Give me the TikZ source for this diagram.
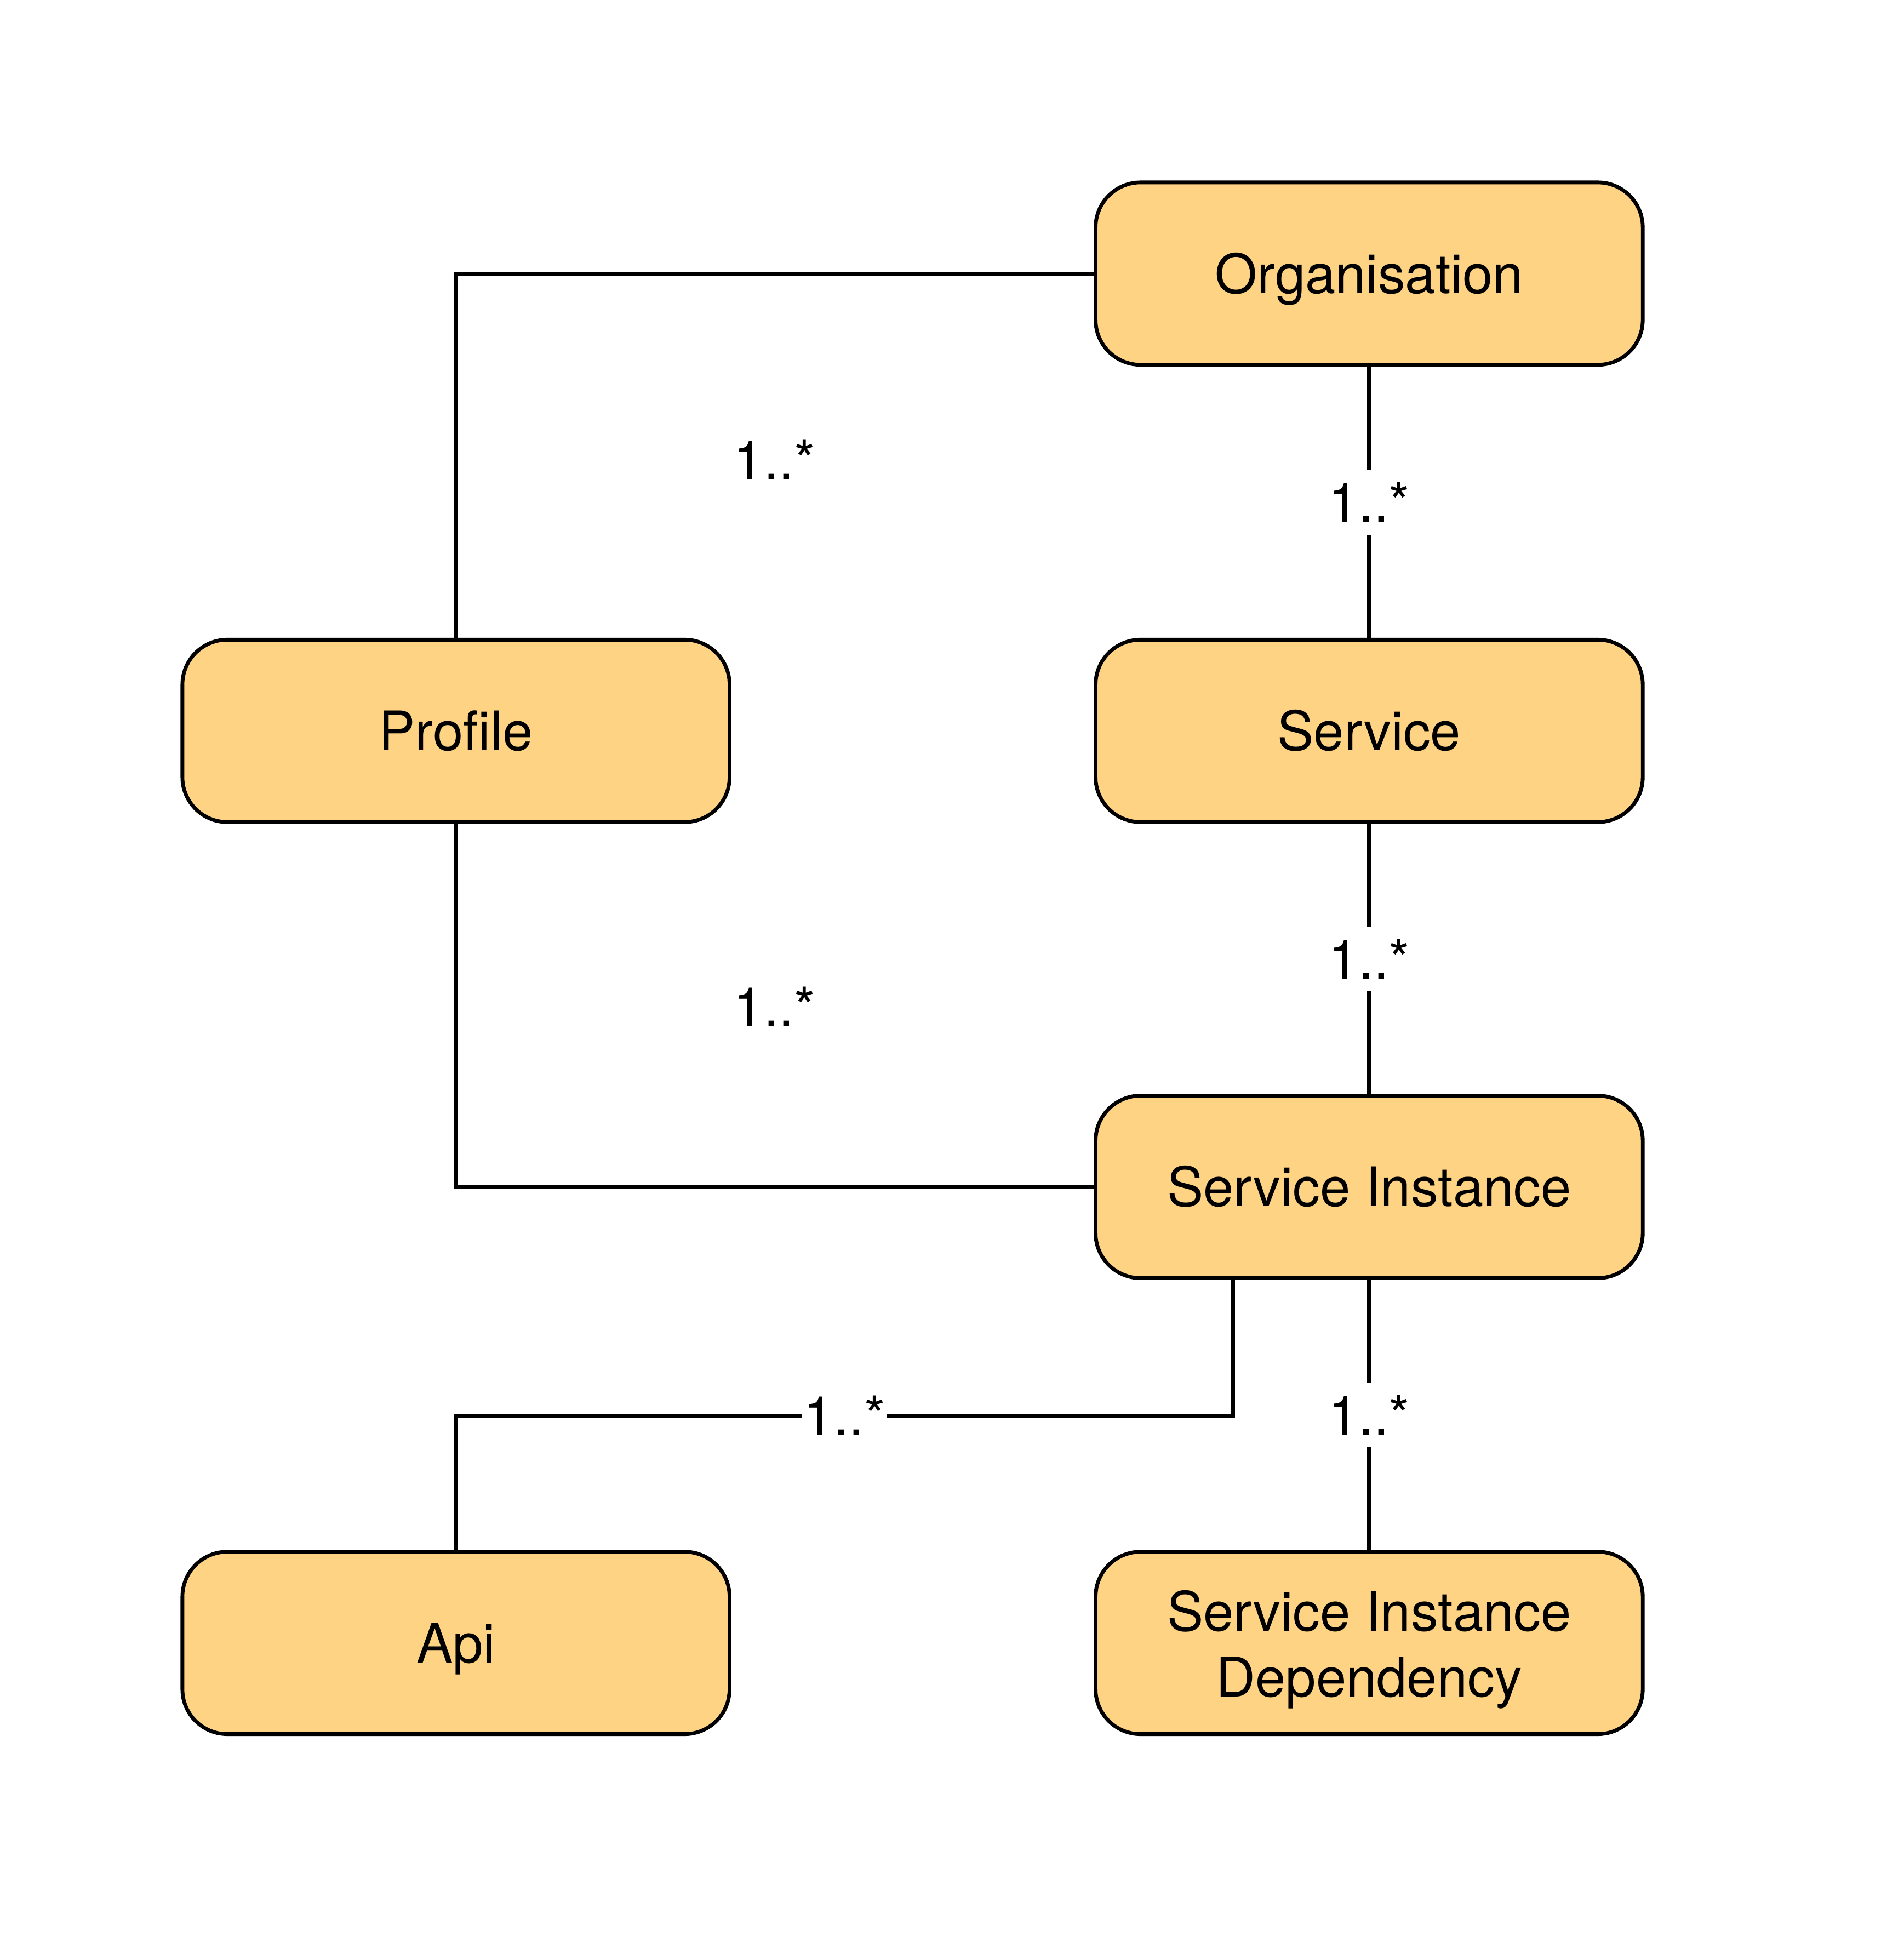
\documentclass[tikz,border=0pt]{standalone}
\usepackage{fontspec}
\setmainfont{TeX Gyre Heros}
\definecolor{boxfill}{RGB}{254,211,131}
\begin{document}
\begin{tikzpicture}[x=1pt,y=1pt,
  entity/.style={draw=black, line width=1.5pt, fill=boxfill, rounded corners=18pt,
    minimum width=219pt, minimum height=73pt, align=center, inner sep=0pt,
    font=\fontsize{21.8}{26.5}\selectfont},
  oneline/.style={text height=15.7pt, text depth=0pt},
  conn/.style={line width=1.5pt},
  mult/.style={fill=white, inner xsep=0.6pt, inner ysep=0pt, minimum height=26pt,
    font=\fontsize{21.8}{26.5}\selectfont},
  freelab/.style={inner sep=0pt, font=\fontsize{21.8}{26.5}\selectfont}]
\useasboundingbox (0,0) rectangle (762,-784);
\node[entity, oneline] (org) at (548,-109.5) {Organisation};
\node[entity, oneline] (profile) at (182.5,-292.5) {Profile};
\node[entity, oneline] (service) at (548,-292.5) {Service};
\node[entity, oneline] (si) at (548,-475) {Service Instance};
\node[entity, oneline] (api) at (182.5,-657.5) {Api};
\node[entity] (sid) at (548,-657.5) {\raisebox{-3pt}[\height][\depth]{\begin{tabular}{@{}c@{}}Service Instance\\[-0.2pt]Dependency\end{tabular}}};
% Organisation - Profile
\draw[conn] (org.west) -| (profile.north);
\node[freelab] (l1) at (310,-184) {1..*};
% Organisation - Service
\draw[conn] (org.south) -- node[mult] (l2) {1..*} (service.north);
% Service - Service Instance
\draw[conn] (service.south) -- node[mult] (l3) {1..*} (si.north);
% Profile - Service Instance
\draw[conn] (profile.south) |- (si.west);
\node[freelab] (l4) at (310,-403) {1..*};
% Service Instance - Api
\coordinate (k) at (493.5,-566.5);
\draw[conn] (k |- si.south) -- (k) -- node[mult] (l5) {1..*} (k -| api.north) -- (api.north);
% Service Instance - Dependency
\draw[conn] (si.south) -- node[mult] (l6) {1..*} (sid.north);
\end{tikzpicture}
\end{document}
